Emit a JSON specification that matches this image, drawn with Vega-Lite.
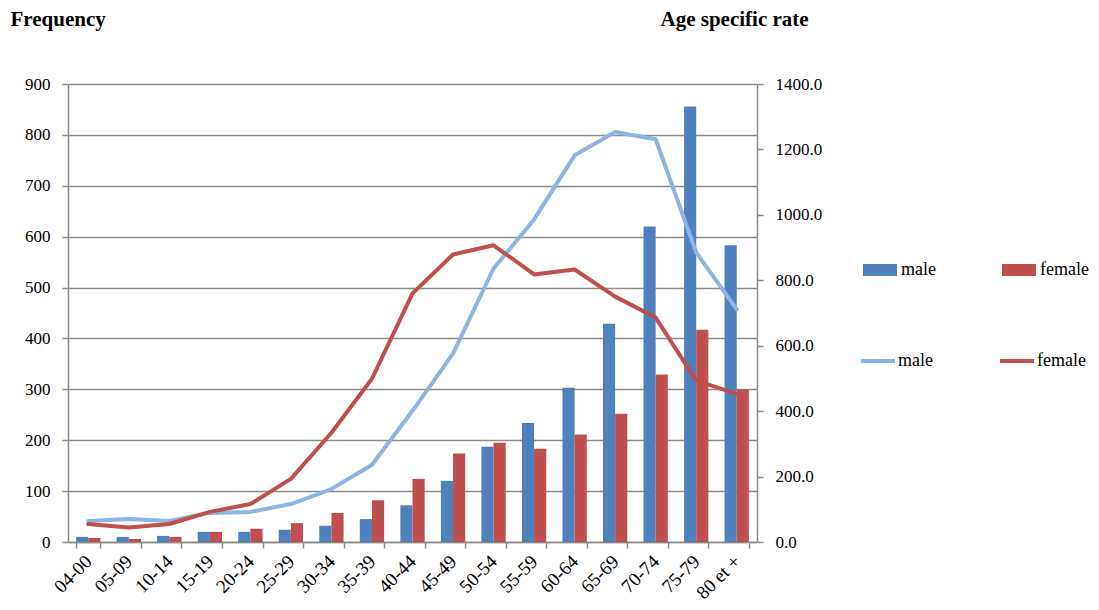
{
  "$schema": "https://vega.github.io/schema/vega-lite/v6.json",
  "autosize": {"type": "none"},
  "width": 689,
  "height": 458,
  "padding": {"left": 68, "top": 84, "right": 342, "bottom": 68},
  "background": "white",
  "config": {
    "view": {"stroke": null},
    "font": "Liberation Serif",
    "axis": {"labelFont": "Liberation Serif", "labelFontSize": 17, "labelColor": "#000", "titleFont": "Liberation Serif", "domainColor": "#8c8c8c", "domainWidth": 1.5, "tickColor": "#8c8c8c", "tickWidth": 1.5, "gridColor": "#8c8c8c", "gridWidth": 1.5},
    "legend": {"labelFont": "Liberation Serif", "labelFontSize": 18, "labelColor": "#000"}
  },
  "data": {"values": [
    {"age": "04-00", "sex": "male", "freq": 10, "rate": 64},
    {"age": "04-00", "sex": "female", "freq": 8, "rate": 55},
    {"age": "05-09", "sex": "male", "freq": 10, "rate": 70},
    {"age": "05-09", "sex": "female", "freq": 6, "rate": 44},
    {"age": "10-14", "sex": "male", "freq": 12, "rate": 64},
    {"age": "10-14", "sex": "female", "freq": 10, "rate": 55},
    {"age": "15-19", "sex": "male", "freq": 20, "rate": 89},
    {"age": "15-19", "sex": "female", "freq": 20, "rate": 92},
    {"age": "20-24", "sex": "male", "freq": 20, "rate": 92},
    {"age": "20-24", "sex": "female", "freq": 26, "rate": 116},
    {"age": "25-29", "sex": "male", "freq": 24, "rate": 116},
    {"age": "25-29", "sex": "female", "freq": 37, "rate": 193},
    {"age": "30-34", "sex": "male", "freq": 32, "rate": 162},
    {"age": "30-34", "sex": "female", "freq": 57, "rate": 334},
    {"age": "35-39", "sex": "male", "freq": 45, "rate": 236},
    {"age": "35-39", "sex": "female", "freq": 82, "rate": 499},
    {"age": "40-44", "sex": "male", "freq": 72, "rate": 401},
    {"age": "40-44", "sex": "female", "freq": 124, "rate": 760},
    {"age": "45-49", "sex": "male", "freq": 120, "rate": 576},
    {"age": "45-49", "sex": "female", "freq": 174, "rate": 879},
    {"age": "50-54", "sex": "male", "freq": 187, "rate": 836},
    {"age": "50-54", "sex": "female", "freq": 195, "rate": 907},
    {"age": "55-59", "sex": "male", "freq": 234, "rate": 986},
    {"age": "55-59", "sex": "female", "freq": 183, "rate": 818},
    {"age": "60-64", "sex": "male", "freq": 303, "rate": 1182},
    {"age": "60-64", "sex": "female", "freq": 211, "rate": 833},
    {"age": "65-69", "sex": "male", "freq": 429, "rate": 1253},
    {"age": "65-69", "sex": "female", "freq": 252, "rate": 750},
    {"age": "70-74", "sex": "male", "freq": 620, "rate": 1231},
    {"age": "70-74", "sex": "female", "freq": 329, "rate": 686},
    {"age": "75-79", "sex": "male", "freq": 856, "rate": 885},
    {"age": "75-79", "sex": "female", "freq": 417, "rate": 493},
    {"age": "80 et +", "sex": "male", "freq": 583, "rate": 711},
    {"age": "80 et +", "sex": "female", "freq": 299, "rate": 453}
  ]},
  "encoding": {
    "x": {"field": "age", "type": "nominal", "sort": null,
      "scale": {"paddingInner": 0.4, "paddingOuter": 0.2},
      "axis": {"title": null, "labelAngle": -45, "labelAlign": "right", "labelBaseline": "middle", "labelPadding": 10, "labelFontSize": 19, "tickBand": "extent", "tickSize": 6, "grid": false}}
  },
  "layer": [
    {
      "mark": {"type": "bar"},
      "encoding": {
        "xOffset": {"field": "sex", "type": "nominal", "sort": ["male", "female"]},
        "y": {"field": "freq", "type": "quantitative",
          "scale": {"domain": [0, 900]},
          "axis": {"title": "Frequency", "titleAngle": 0, "titleX": -58, "titleY": -59, "titleAlign": "left", "titleBaseline": "alphabetic", "titleFontSize": 21, "titleFontWeight": "bold", "values": [0,100,200,300,400,500,600,700,800,900], "grid": true, "tickSize": 6, "labelPadding": 12}},
        "color": {"field": "sex", "type": "nominal",
          "scale": {"domain": ["male", "female"], "range": ["#4F81BD", "#C0504D"]},
          "legend": {"title": null, "orient": "none", "legendX": 795, "legendY": 169, "direction": "horizontal", "columns": 2, "columnPadding": 66, "symbolType": "M-1,-0.353H1V0.353H-1Z", "symbolSize": 1156, "symbolStrokeWidth": 0, "labelOffset": 4, "padding": 0}}
      }
    },
    {
      "mark": {"type": "line", "strokeWidth": 4, "strokeCap": "round", "strokeJoin": "round"},
      "encoding": {
        "y": {"field": "rate", "type": "quantitative",
          "scale": {"domain": [0, 1400]},
          "axis": {"orient": "right", "title": "Age specific rate", "titleAngle": 0, "titleX": -97, "titleY": -59, "titleAlign": "left", "titleBaseline": "alphabetic", "titleFontSize": 21, "titleFontWeight": "bold", "values": [0,200,400,600,800,1000,1200,1400], "format": ".1f", "grid": false, "tickSize": 6, "labelPadding": 12}},
        "stroke": {"field": "sex", "type": "nominal", "sort": ["male", "female"],
          "scale": {"range": ["#8DB4E2", "#C0504D"]},
          "legend": {"title": null, "orient": "none", "legendX": 791, "legendY": 258, "direction": "horizontal", "columns": 2, "columnPadding": 59, "symbolType": "M-1,0H1", "symbolSize": 1156, "symbolStrokeWidth": 4, "labelOffset": 1, "padding": 0}}
      }
    }
  ],
  "resolve": {"scale": {"y": "independent"}}
}
